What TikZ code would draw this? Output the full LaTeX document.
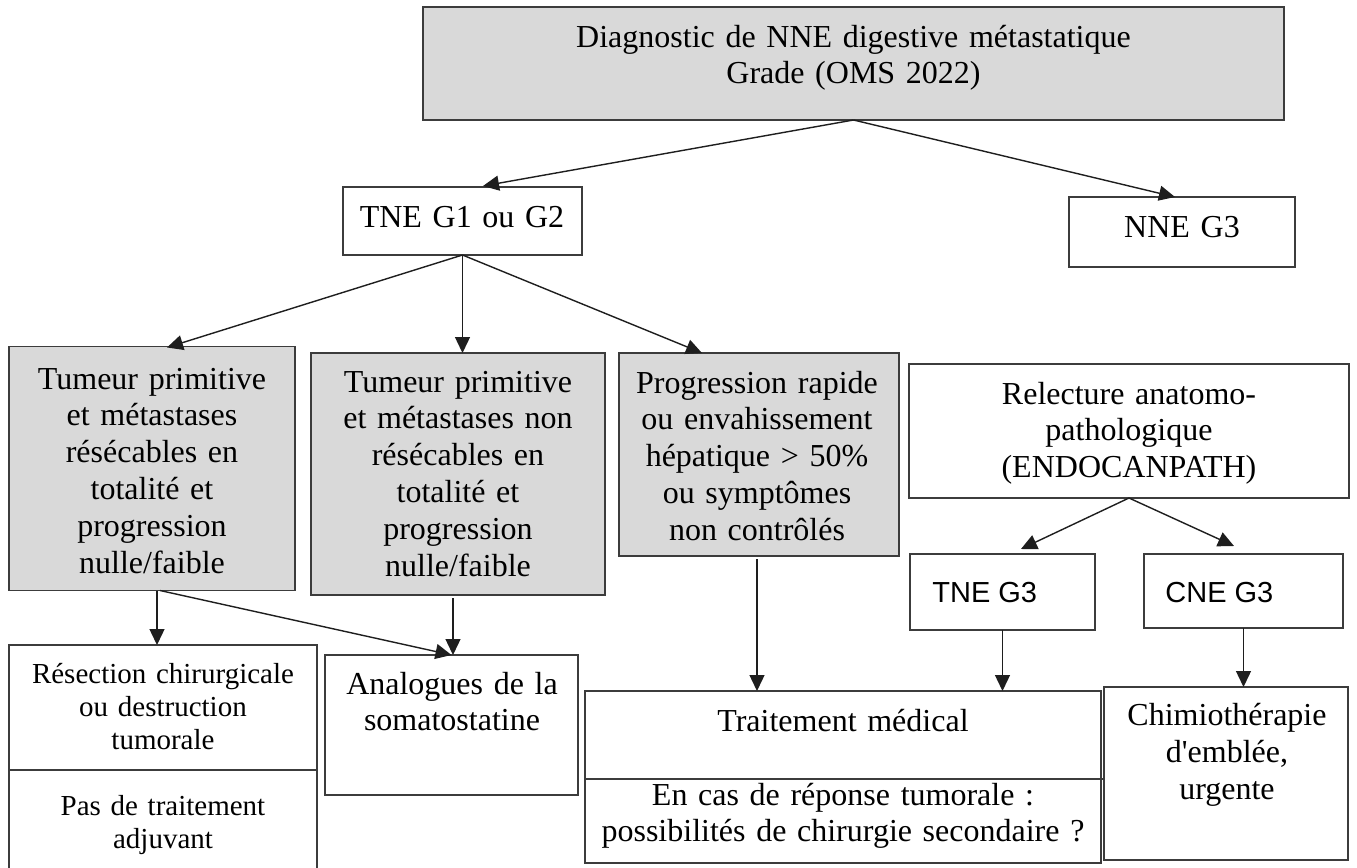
\documentclass[tikz,border=0pt]{standalone}
\usepackage{fontspec}
\setmainfont{Liberation Serif}
\newfontfamily\bodyfont{Liberation Serif}
\newfontfamily\arialfont{Liberation Sans}
\usetikzlibrary{arrows.meta,calc}
\definecolor{boxline}{HTML}{3C3C3C}
\definecolor{greyfill}{HTML}{D9D9D9}
\definecolor{arrowline}{HTML}{1E1E1E}
\begin{document}
\begin{tikzpicture}[x=0.5pt,y=-0.5pt,
  box/.style={draw=boxline, line width=0.9pt, inner sep=0pt, outer sep=0pt},
  greybox/.style={box, fill=greyfill},
  divider/.style={draw=boxline, line width=0.9pt},
  txt/.style={anchor=base, text width=300pt, align=center, inner sep=0pt,
    font=\bodyfont\fontsize{16}{18.4}\selectfont},
  smalltxt/.style={txt, font=\bodyfont\fontsize{14.5}{16.5}\selectfont},
  sanstxt/.style={anchor=base west, inner sep=0pt, font=\arialfont\fontsize{14.5}{17}\selectfont},
  arr/.style={draw=arrowline, line width=0.7pt, -{Triangle[length=8pt,width=7.5pt]}},
]
\useasboundingbox (0,0) rectangle (1357,868);
\fill[white] (0,0) rectangle (1357,868);
\clip (0,0) rectangle (1357,868);

% boxes
\node[greybox, minimum width=430.5pt, minimum height=56.5pt] (diag) at (853.5,63.5) {};
\node[box, minimum width=119.5pt, minimum height=34pt] (g12) at (462.5,221) {};
\node[box, minimum width=113pt, minimum height=35pt] (nne) at (1182,232) {};
\node[greybox, minimum width=143pt, minimum height=122pt] (b1) at (152,468.5) {};
\node[greybox, minimum width=147pt, minimum height=121pt] (b2) at (458,474) {};
\node[greybox, minimum width=140pt, minimum height=101.5pt] (b3) at (759,454.5) {};
\node[box, minimum width=220pt, minimum height=67pt] (rel) at (1129,431) {};
\node[box, minimum width=92.5pt, minimum height=38pt] (tg3) at (1002.5,592) {};
\node[box, minimum width=99.5pt, minimum height=37pt] (cg3) at (1243.5,591) {};
\node[box, minimum width=154pt, minimum height=115pt] (res) at (163,760) {};
\node[box, minimum width=126.5pt, minimum height=70pt] (ana) at (451.5,725) {};
\node[box, minimum width=258pt, minimum height=86pt] (med) at (843,777) {};
\node[box, minimum width=122pt, minimum height=86.5pt] (chim) at (1226,773.5) {};

% split lines inside the two-part boxes
\draw[divider] ($(res.north west)+(0,125)$) -- ($(res.north east)+(1,125)$);
\draw[divider] ($(med.north west)+(0,88)$) -- ($(med.north east)+(4,88)$);

% texts
\node[txt] (tdiag) at (853.5,47) {Diagnostic de NNE digestive métastatique\\Grade (OMS 2022)};
\node[txt] (tg12) at (462,227) {TNE G1 ou G2};
\node[txt] (tnne) at (1182,237) {NNE G3};
\node[txt] (tb1) at (152,389) {Tumeur primitive\\et métastases\\résécables en\\totalité et\\progression\\nulle/faible};
\node[txt] (tb2) at (458,392) {Tumeur primitive\\et métastases non\\résécables en\\totalité et\\progression\\nulle/faible};
\node[txt] (tb3) at (757,393) {Progression rapide\\ou envahissement\\hépatique > 50\%\\ou symptômes\\non contrôlés};
\node[txt] (trel) at (1129,404) {Relecture anatomo-\\pathologique\\(ENDOCANPATH)};
\node[sanstxt] (ttg3) at (932,602) {TNE G3};
\node[sanstxt] (tcg3) at (1165,602) {CNE G3};
\node[smalltxt] (tres) at (163,683) {Résection chirurgicale\\ou destruction\\tumorale};
\node[smalltxt] (tadj) at (163,815) {Pas de traitement\\adjuvant};
\node[txt] (tana) at (452,694) {Analogues de la\\somatostatine};
\node[txt] (tmed) at (843,731) {Traitement médical};
\node[txt] (tsec) at (843,805) {En cas de réponse tumorale :\\possibilités de chirurgie secondaire ?};
\node[txt] (tchim) at (1227,725.5) {Chimiothérapie\\d'emblée,\\urgente};

% connectors
\draw[arr] (diag.south) -- ($(g12.north)+(20.5,-1)$);
\draw[arr] (diag.south) -- ($(nne.north)+(-7,0)$);
\draw[arr] (g12.south) -- ($(b1.north)+(15,1)$);
\draw[arr] (g12.south) -- (g12.south |- b2.north);
\draw[arr] (g12.south) -- ($(b3.north)+(-57,0)$);
\draw[arr] (rel.south) -- ($(tg3.north)+(18.5,-5)$);
\draw[arr] (rel.south) -- ($(cg3.north)+(-9.5,-8)$);
\draw[arr] ($(b3.south)+(-2,3)$) coordinate (b3out) -- (b3out |- med.north);
\draw[arr] (tg3.south) -- (tg3.south |- med.north);
\draw[arr] (cg3.south) -- (cg3.south |- chim.north);
\draw[arr] ($(b1.south)+(5,0)$) coordinate (b1out) -- (b1out |- res.north);
\draw[arr] ($(b1.south)+(8,0)$) -- (ana.north);
\draw[arr] ($(b2.south)+(-5,3)$) coordinate (b2out) -- (b2out |- ana.north);
\end{tikzpicture}
\end{document}
